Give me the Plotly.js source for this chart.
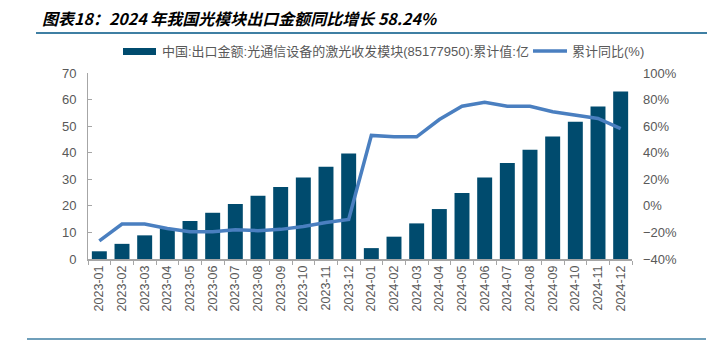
<!DOCTYPE html>
<html>
<head>
<meta charset="utf-8">
<script src="https://cdn.plot.ly/plotly-3.0.1.min.js"></script>
<style>html,body{margin:0;padding:0;background:#fff;}#chart{width:707px;height:345px;}</style>
</head>
<body>
<div id="chart"></div>
<script>
const months = ["2023-01","2023-02","2023-03","2023-04","2023-05","2023-06","2023-07","2023-08","2023-09","2023-10","2023-11","2023-12",
  "2024-01","2024-02","2024-03","2024-04","2024-05","2024-06","2024-07","2024-08","2024-09","2024-10","2024-11","2024-12"];
const exportValue = [2.9,5.7,8.9,11.6,14.3,17.4,20.7,23.8,27.1,30.7,34.7,39.7,
  4.1,8.4,13.4,18.8,24.8,30.7,36.1,41.1,46.1,51.7,57.4,63.0];
const yoyPct = [-26.3,-13.7,-13.7,-17.0,-19.5,-19.5,-18.0,-18.7,-17.7,-15.5,-12.5,-10.2,
  53.0,52.0,52.0,65.0,75.0,78.0,75.0,75.0,70.8,68.3,65.8,58.2];
const barName = "中国:出口金额:光通信设备的激光收发模块(85177950):累计值:亿";
const lineName = "累计同比(%)";
const titleText = "图表18：2024 年我国光模块出口金额同比增长 58.24%";

const barColor = "#004b6e";
const lineColor = "#4a7fc0";
const textColor = "#595959";
const font = "Arial, 'Liberation Sans', 'Noto Sans CJK SC', sans-serif";

const traces = [
  {type:"bar", x:months, y:exportValue, name:barName, marker:{color:barColor}, yaxis:"y", showlegend:false},
  {type:"scatter", mode:"lines", x:months, y:yoyPct, name:lineName, line:{color:lineColor, width:3.5}, yaxis:"y2", showlegend:false}
];

const layout = {
  width:707, height:345,
  margin:{l:88, r:75, t:73, b:86},
  paper_bgcolor:"#fff", plot_bgcolor:"#fff",
  bargap:0.34,
  font:{family:font, size:13, color:textColor},
  xaxis:{type:"category", showline:true, linecolor:"#a6a6a6", linewidth:1.5, ticks:"outside", tickson:"boundaries",
    ticklen:4, tickcolor:"#a6a6a6", tickangle:-90, tickfont:{size:12.5, color:textColor}, showgrid:false},
  yaxis:{range:[0,70], dtick:10, showline:true, linecolor:"#a6a6a6", linewidth:1, ticks:"inside", ticklen:4, tickcolor:"#a6a6a6",
    showgrid:false, zeroline:false, tickfont:{size:13, color:textColor}, ticklabelstandoff:8},
  yaxis2:{range:[-40,100], dtick:20, overlaying:"y", side:"right", showline:false, showgrid:false, zeroline:false,
    ticksuffix:"%", tickfont:{size:13, color:textColor}, ticklabelstandoff:10},
  shapes:[
    {type:"line", xref:"paper", yref:"paper", x0:(36-88)/544, x1:(707-88)/544, y0:(345-33-86)/186, y1:(345-33-86)/186,
      line:{color:"#3f7fa3", width:2}},
    {type:"line", xref:"paper", yref:"paper", x0:(27-88)/544, x1:(706-88)/544, y0:(345-339-86)/186, y1:(345-339-86)/186,
      line:{color:"#3f7fa3", width:1.5}},
    {type:"rect", xref:"paper", yref:"paper", x0:(123-88)/544, x1:(156-88)/544, y0:(345-55-86)/186, y1:(345-48-86)/186,
      fillcolor:barColor, line:{width:0}},
    {type:"line", xref:"paper", yref:"paper", x0:(533-88)/544, x1:(567-88)/544, y0:(345-51-86)/186, y1:(345-51-86)/186,
      line:{color:lineColor, width:3.5}}
  ],
  annotations:[
    {text:"<b><i>"+titleText+"</i></b>", xref:"paper", yref:"paper", x:(40-88)/544, y:(345-18-86)/186, xanchor:"left", yanchor:"middle",
      showarrow:false, font:{family:"'Noto Sans CJK SC', sans-serif", size:16, color:"#000"}},
    {text:barName, xref:"paper", yref:"paper", x:(160-88)/544, y:(345-51-86)/186, xanchor:"left", yanchor:"middle",
      showarrow:false, font:{size:13, color:textColor}},
    {text:lineName, xref:"paper", yref:"paper", x:(570-88)/544, y:(345-51-86)/186, xanchor:"left", yanchor:"middle",
      showarrow:false, font:{size:13, color:textColor}}
  ]
};

Plotly.newPlot("chart", traces, layout, {displayModeBar:false, staticPlot:true});
</script>
</body>
</html>
